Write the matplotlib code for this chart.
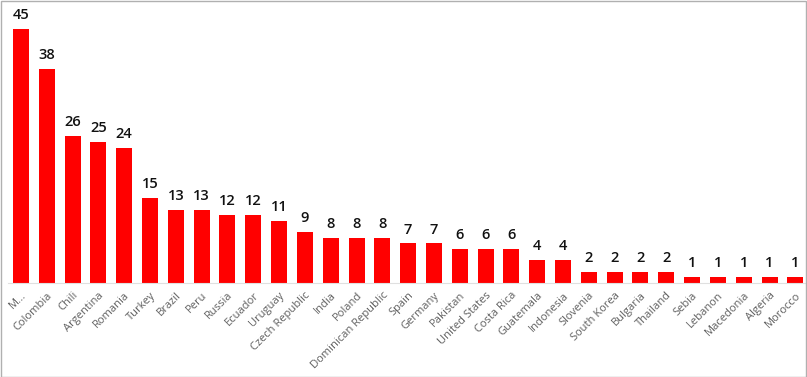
import matplotlib.pyplot as plt
from matplotlib.patches import Rectangle

# countries and counts
countries = ['M...', 'Colombia', 'Chili', 'Argentina', 'Romania', 'Turkey', 'Brazil', 'Peru',
             'Russia', 'Ecuador', 'Uruguay', 'Czech Republic', 'India', 'Poland',
             'Dominican Republic', 'Spain', 'Germany', 'Pakistan', 'United States', 'Costa Rica',
             'Guatemala', 'Indonesia', 'Slovenia', 'South Korea', 'Bulgaria', 'Thailand',
             'Sebia', 'Lebanon', 'Macedonia', 'Algeria', 'Morocco']
counts = [45, 38, 26, 25, 24, 15, 13, 13, 12, 12, 11, 9, 8, 8, 8, 7, 7, 6, 6, 6,
          4, 4, 2, 2, 2, 2, 1, 1, 1, 1, 1]

plt.rcParams['font.family'] = ['Open Sans', 'DejaVu Sans']

W, H = 807, 377
fig = plt.figure(figsize=(W / 100, H / 100), dpi=100)
ax = fig.add_axes([8 / W, 1 - 283 / H, 799 / W, 254 / H])

x = list(range(len(countries)))
bars = ax.bar(x, counts, width=0.62, color='#ff0000')
for b, v in zip(bars, counts):
    ax.annotate(str(v), (b.get_x() + b.get_width() / 2, v), xytext=(0, 5),
                textcoords='offset points', ha='center', va='bottom',
                fontsize=10.5, fontweight='semibold', color='#111111')

ax.set_xlim(-0.5, 30.45)
ax.set_ylim(0, 45)
ax.set_yticks([])
ax.set_xticks(x)
ax.set_xticklabels(countries, rotation=45, ha='right', rotation_mode='anchor',
                   fontsize=8, color='#606060')
ax.tick_params(axis='x', length=0, pad=5)
for s in ['top', 'right', 'left']:
    ax.spines[s].set_visible(False)
ax.spines['bottom'].set_color('#e0e0e0')
ax.spines['bottom'].set_linewidth(0.8)

# thin grey frame round the whole picture
fig.patches.append(Rectangle((0.5 / W, 0.5 / H), 1 - 1.5 / W, 1 - 1.5 / H,
                             transform=fig.transFigure, fill=False,
                             edgecolor='#b0b0b0', linewidth=1))

fig.savefig('out.png', dpi=100)
